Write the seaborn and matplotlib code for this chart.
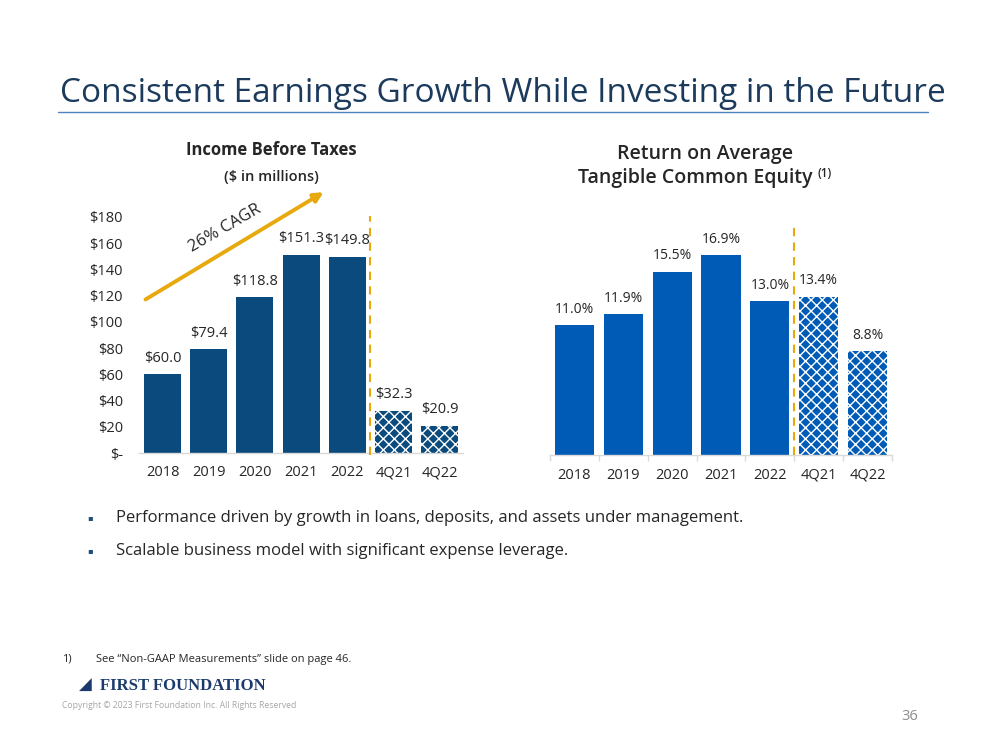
import matplotlib
matplotlib.use("Agg")
import matplotlib.pyplot as plt
import seaborn as sns
import pandas as pd

# ---- data ----
categories = ["2018", "2019", "2020", "2021", "2022", "4Q21", "4Q22"]
income_values = [60.0, 79.4, 118.8, 151.3, 149.8, 32.3, 20.9]
income_labels = ["$60.0", "$79.4", "$118.8", "$151.3", "$149.8", "$32.3", "$20.9"]
rotce_values = [11.0, 11.9, 15.5, 16.9, 13.0, 13.4, 8.8]
rotce_labels = ["11.0%", "11.9%", "15.5%", "16.9%", "13.0%", "13.4%", "8.8%"]
income_yticks = [0, 20, 40, 60, 80, 100, 120, 140, 160, 180]
income_yticklabels = ["$-", "$20", "$40", "$60", "$80", "$100", "$120", "$140", "$160", "$180"]

sns.set_theme(style="white")
plt.rcParams["font.family"] = ["Open Sans", "DejaVu Sans"]
plt.rcParams["hatch.linewidth"] = 1.0

NAVY = "#0A4A7C"
BLUE = "#005BB7"
GOLD = "#E8A90E"
TXT = "#262626"

fig = plt.figure(figsize=(9.99, 7.5), dpi=100)

# ---- slide title ----
fig.text(0.060, 0.875, "Consistent Earnings Growth While Investing in the Future",
         fontsize=24, color="#1B3A5C", ha="left", va="center")
fig.add_artist(plt.Line2D([0.058, 0.929], [0.851, 0.851], color="#4F81BD", lw=1.0))

df1 = pd.DataFrame({"cat": categories, "val": income_values})
df2 = pd.DataFrame({"cat": categories, "val": rotce_values})

# ---- left chart ----
ax1 = fig.add_axes([0.1396, 0.396, 0.3235, 0.3147])
sns.barplot(data=df1, x="cat", y="val", color=NAVY, width=0.8, saturation=1, ax=ax1)
for i, p in enumerate(ax1.patches):
    p.set_linewidth(0)
    if i >= 5:
        p.set_facecolor(NAVY)
        p.set_edgecolor("white")
        p.set_hatch("xxx")
        p.set_linewidth(0)
ax1.bar_label(ax1.containers[0], labels=income_labels, padding=6, fontsize=10.5, color=TXT)
ax1.set_ylim(0, 180)
ax1.set_xlim(-0.5, 6.5)
ax1.set_yticks(income_yticks)
ax1.set_yticklabels(income_yticklabels)
ax1.tick_params(axis="y", length=0, pad=12, labelsize=10.5, labelcolor=TXT)
ax1.tick_params(axis="x", length=0, pad=9, labelsize=10.5, labelcolor=TXT)
ax1.set_xlabel("")
ax1.set_ylabel("")
for s in ["top", "right", "left"]:
    ax1.spines[s].set_visible(False)
ax1.spines["bottom"].set_color("#D9D9D9")
ax1.spines["bottom"].set_linewidth(1.0)
ax1.plot([4.5, 4.5], [-1.5, 181], color=GOLD, lw=1.5, ls=(0, (4, 3)), clip_on=False, zorder=5)

# CAGR arrow
ax1.annotate("", xy=(3.54, 200), xytext=(-0.42, 116),
             arrowprops=dict(arrowstyle="-|>", color=GOLD, lw=2.8, mutation_scale=14),
             annotation_clip=False)
ax1.text(1.35, 171.5, "26% CAGR", rotation=30, fontsize=12, color=TXT,
         ha="center", va="center", rotation_mode="anchor")

fig.text(0.272, 0.800, "Income Before Taxes", fontsize=12, fontweight="bold",
         color=TXT, ha="center", va="center")
fig.text(0.272, 0.764, "($ in millions)", fontsize=10.5, fontweight="semibold",
         color=TXT, ha="center", va="center")

# ---- right chart ----
ax2 = fig.add_axes([0.5506, 0.3933, 0.3423, 0.3107])
sns.barplot(data=df2, x="cat", y="val", color=BLUE, width=0.8, saturation=1, ax=ax2)
for i, p in enumerate(ax2.patches):
    p.set_linewidth(0)
    if i >= 5:
        p.set_facecolor(BLUE)
        p.set_edgecolor("white")
        p.set_hatch("xxx")
        p.set_linewidth(0)
ax2.bar_label(ax2.containers[0], labels=rotce_labels, padding=6, fontsize=10, color=TXT)
ax2.set_ylim(0, 19.7)
ax2.set_xlim(-0.5, 6.5)
ax2.set_yticks([])
ax2.set_xticks([x + 0.5 for x in range(-1, 7)], minor=True)
ax2.tick_params(axis="x", which="major", length=0, pad=9, labelsize=10.5, labelcolor=TXT)
ax2.tick_params(axis="x", which="minor", length=4, color="#D9D9D9", width=1, bottom=True)
ax2.set_xlabel("")
ax2.set_ylabel("")
for s in ["top", "right", "left"]:
    ax2.spines[s].set_visible(False)
ax2.spines["bottom"].set_color("#D9D9D9")
ax2.spines["bottom"].set_linewidth(1.0)
ax2.plot([4.5, 4.5], [0, 19.7], color=GOLD, lw=1.5, ls=(0, (4, 3)), clip_on=False, zorder=5)

fig.text(0.706, 0.794, "Return on Average", fontsize=14, fontweight="semibold",
         color=TXT, ha="center", va="center")
fig.text(0.579, 0.763, "Tangible Common Equity", fontsize=14, fontweight="semibold",
         color=TXT, ha="left", va="center")
fig.text(0.818, 0.769, "(1)", fontsize=8.5, fontweight="semibold",
         color=TXT, ha="left", va="center")

# ---- bullets ----
for y, t in [(0.309, "Performance driven by growth in loans, deposits, and assets under management."),
             (0.265, "Scalable business model with significant expense leverage.")]:
    fig.text(0.0905, y, "\u25aa", fontsize=6, color="#1F4E79", ha="center", va="center")
    fig.text(0.116, y, t, fontsize=12, color=TXT, ha="left", va="center")

# ---- footnote / footer ----
fig.text(0.062, 0.121, "1)", fontsize=8, color=TXT, ha="left", va="center")
fig.text(0.096, 0.121, "See \u201cNon-GAAP Measurements\u201d slide on page 46.",
         fontsize=8, color=TXT, ha="left", va="center")
fig.text(0.100, 0.085, "FIRST FOUNDATION", fontsize=12, fontweight="bold",
         color="#1B3A6B", ha="left", va="center",
         family=["Liberation Serif", "DejaVu Serif"])
fig.text(0.079, 0.085, "\u25e2", fontsize=12, color="#1B3A6B", ha="left", va="center")
fig.text(0.062, 0.060, "Copyright \u00a9 2023 First Foundation Inc. All Rights Reserved",
         fontsize=6.2, color="#A6A6A6", ha="left", va="center")
fig.text(0.919, 0.045, "36", fontsize=10.5, color="#8C8C8C", ha="right", va="center")

fig.savefig("out.png", dpi=100, facecolor="white")
